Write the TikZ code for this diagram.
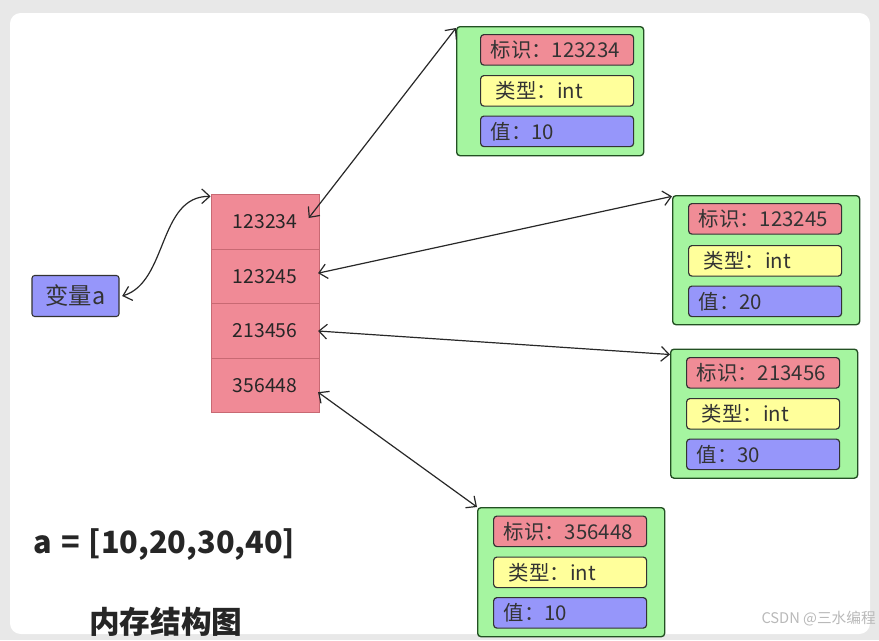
\documentclass[tikz,border=0pt]{standalone}
\usepackage{fontspec}
\setmainfont{Noto Sans CJK SC}
\usetikzlibrary{arrows.meta}
\definecolor{bggray}{RGB}{232,232,232}
\definecolor{cellpink}{RGB}{240,138,150}
\definecolor{cellborder}{RGB}{200,105,115}
\definecolor{objgreen}{RGB}{165,245,160}
\definecolor{objborder}{RGB}{35,80,35}
\definecolor{tagpink}{RGB}{240,140,150}
\definecolor{tagyellow}{RGB}{255,255,155}
\definecolor{tagblue}{RGB}{150,150,250}
\definecolor{linegray}{RGB}{40,40,40}
\definecolor{wmgray}{RGB}{185,185,185}
\tikzset{
  cell/.style={draw=cellborder, fill=cellpink, line width=0.6pt, minimum width=108*0.75pt, minimum height=54.5*0.75pt, inner sep=0pt, font=\fontsize{14.5}{16}\selectfont, text=black!85},
  varbox/.style={draw=black!80, fill=tagblue, rounded corners=2pt, line width=0.8pt, minimum width=87*0.75pt, minimum height=41*0.75pt, inner sep=0pt, font=\fontsize{17.5}{19}\selectfont, text=black!80},
  objbox/.style={draw=objborder, fill=objgreen, rounded corners=2.5pt, line width=1pt, minimum width=187*0.75pt, minimum height=129*0.75pt, anchor=north west, inner sep=0pt},
  tagbox/.style={draw=black!80, rounded corners=2.5pt, line width=0.9pt, anchor=north west, text width=133*0.75pt, inner xsep=7.5pt, inner ysep=0pt, minimum height=30.5*0.75pt, align=left, font=\fontsize{15.3}{16}\selectfont, text=black!80},
  conn/.style={linegray, line width=0.9pt, {Straight Barb[length=6pt,width=11pt]}-{Straight Barb[length=6pt,width=11pt]}},
}
\begin{document}
\begin{tikzpicture}[x=0.75pt,y=-0.75pt]
\useasboundingbox (0,0) rectangle (879,640);
\fill[bggray] (0,0) rectangle (879,640);
\fill[white, rounded corners=8pt] (10,13) rectangle (870,634);

% memory column
\node[cell] (c1) at (265,222) {123234};
\node[cell] (c2) at (265,276.5) {123245};
\node[cell] (c3) at (265,331) {213456};
\node[cell] (c4) at (265,385.5) {356448};

% variable
\node[varbox] (va) at (75.5,296) {变量a};

% object boxes
\node[objbox] (b1) at (456,26) {};
\node[tagbox, fill=tagpink] (b1t) at (480,34) {标识：123234};
\node[tagbox, fill=tagyellow] (b1y) at (480,75) {\hspace*{4pt}类型：int};
\node[tagbox, fill=tagblue] (b1v) at (480,115.5) {值：10};

\node[objbox] (b2) at (672,195) {};
\node[tagbox, fill=tagpink] (b2t) at (688,203) {标识：123245};
\node[tagbox, fill=tagyellow] (b2y) at (688,245) {\hspace*{4pt}类型：int};
\node[tagbox, fill=tagblue] (b2v) at (688,285.5) {值：20};

\node[objbox] (b3) at (670,348.5) {};
\node[tagbox, fill=tagpink] (b3t) at (686,357) {标识：213456};
\node[tagbox, fill=tagyellow] (b3y) at (686,398) {\hspace*{4pt}类型：int};
\node[tagbox, fill=tagblue] (b3v) at (686,438.5) {值：30};

\node[objbox] (b4) at (477,507) {};
\node[tagbox, fill=tagpink] (b4t) at (493,515.5) {标识：356448};
\node[tagbox, fill=tagyellow] (b4y) at (493,556.5) {\hspace*{4pt}类型：int};
\node[tagbox, fill=tagblue] (b4v) at (493,597) {值：10};

% connectors
\coordinate (memtop) at ([yshift=-1.5pt]c1.north west);
\coordinate (c1end) at ([xshift=-8pt,yshift=3pt]c1.east);
\coordinate (c4end) at ([xshift=-1pt,yshift=-5pt]c4.east);
\coordinate (b3end) at ([yshift=-4.5pt]b3.north west);
\draw[conn] ([xshift=2pt]va.east) .. controls (168,282) and (158,196) .. (memtop);
\draw[conn] (c1end) -- ([yshift=-1.5pt]b1.north west);
\draw[conn] ([xshift=-1pt,yshift=2.5pt]c2.east) -- ([yshift=-1pt]b2.north west);
\draw[conn] ([xshift=-1pt]c3.east) -- (b3end);
\draw[conn] (c4end) -- (b4.north west);

% texts
\node[anchor=west, inner sep=0pt, font=\bfseries\fontsize{23}{26}\selectfont, text=black!85] (formula) at (33,545) {a\hspace{0.3em}=\hspace{0.3em}[10,20,30,40]};
\node[anchor=west, inner sep=0pt, font=\bfseries\fontsize{23}{25}\selectfont, text=black!85] (title) at (89,622) {内存结构图};
\node[anchor=east, inner sep=0pt, font=\fontsize{11}{12}\selectfont, text=wmgray] (wm) at (876,619) {CSDN @三水编程};
\end{tikzpicture}
\end{document}
